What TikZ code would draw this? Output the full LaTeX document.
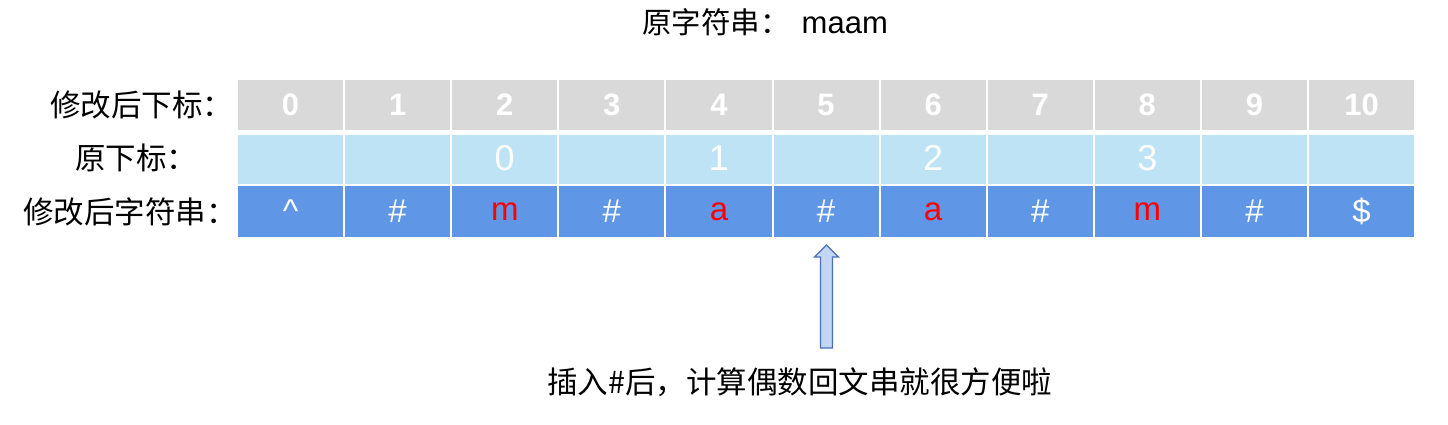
\documentclass[tikz,border=0pt]{standalone}
\usepackage{fontspec}
\setmainfont{Liberation Sans}
\newfontfamily\cjk{Noto Sans CJK SC}
\usetikzlibrary{calc}
\definecolor{hdrgray}{HTML}{D9D9D9}
\definecolor{idxblue}{HTML}{BDE3F5}
\definecolor{strblue}{HTML}{5F96E6}
\definecolor{arrfill}{HTML}{C3D6F4}
\definecolor{arrline}{HTML}{4A71B5}
\tikzset{
  cellbase/.style={draw=none, inner sep=0pt, outer sep=0pt, minimum width=105.1pt, text=white},
  hdrcell/.style={cellbase, fill=hdrgray, minimum height=50pt, font=\fontsize{31}{33}\selectfont\bfseries},
  idxcell/.style={cellbase, fill=idxblue, minimum height=49pt, font=\fontsize{36}{38}\selectfont},
  strcell/.style={cellbase, fill=strblue, minimum height=51pt, font=\fontsize{33}{35}\selectfont},
  redch/.style={text=red},
  lbl/.style={inner sep=0pt, anchor=west, font=\cjk\fontsize{30.5}{32}\selectfont},
}
\begin{document}
\begin{tikzpicture}[x=1pt,y=-1pt]
\useasboundingbox (0,0) rectangle (1448,425);
% title
\node[lbl, font=\cjk\fontsize{29.5}{31}\selectfont] (title) at (642,22) {原字符串：\hspace{12pt}{\fontspec{Liberation Sans}\fontsize{31}{33}\selectfont maam}};
% row labels
\node[lbl] (l1) at (50,105) {修改后下标：};
\node[lbl] (l2) at (75,158) {原下标：};
\node[lbl] (l3) at (23,212) {修改后字符串：};
% header row
\foreach \i in {0,...,10} {
  \node[hdrcell] (h\i) at ({238+107.1*\i+52.55},105) {\i};
}
% original index row
\foreach \i/\t in {0/,1/,2/0,3/,4/1,5/,6/2,7/,8/3,9/,10/} {
  \node[idxcell] (o\i) at ({238+107.1*\i+52.55},159.5) {\raisebox{3pt}{\t}};
}
% modified string row
\foreach \i/\t/\s in {0/\textasciicircum/,1/\#/,2/m/redch,3/\#/,4/a/redch,5/\#/,6/a/redch,7/\#/,8/m/redch,9/\#/,10/\$/} {
  \node[strcell,\s] (s\i) at ({238+107.1*\i+52.55},211.5) {\t};
}
% block arrow pointing at the inserted #
\coordinate (tip) at ($(s5.south)+(0.5,8)$);
\draw[arrline, fill=arrfill, line width=1.3pt, line join=miter]
  (tip) -- ++(12,12) -- ++(-6,0) -- ++(0,91) -- ++(-12,0) -- ++(0,-91) -- ++(-6,0) -- cycle;
% bottom note
\node[lbl, font=\cjk\fontsize{30.5}{32}\selectfont] (note) at (547,382) {插入\#后，计算偶数回文串就很方便啦};
\end{tikzpicture}
\end{document}
